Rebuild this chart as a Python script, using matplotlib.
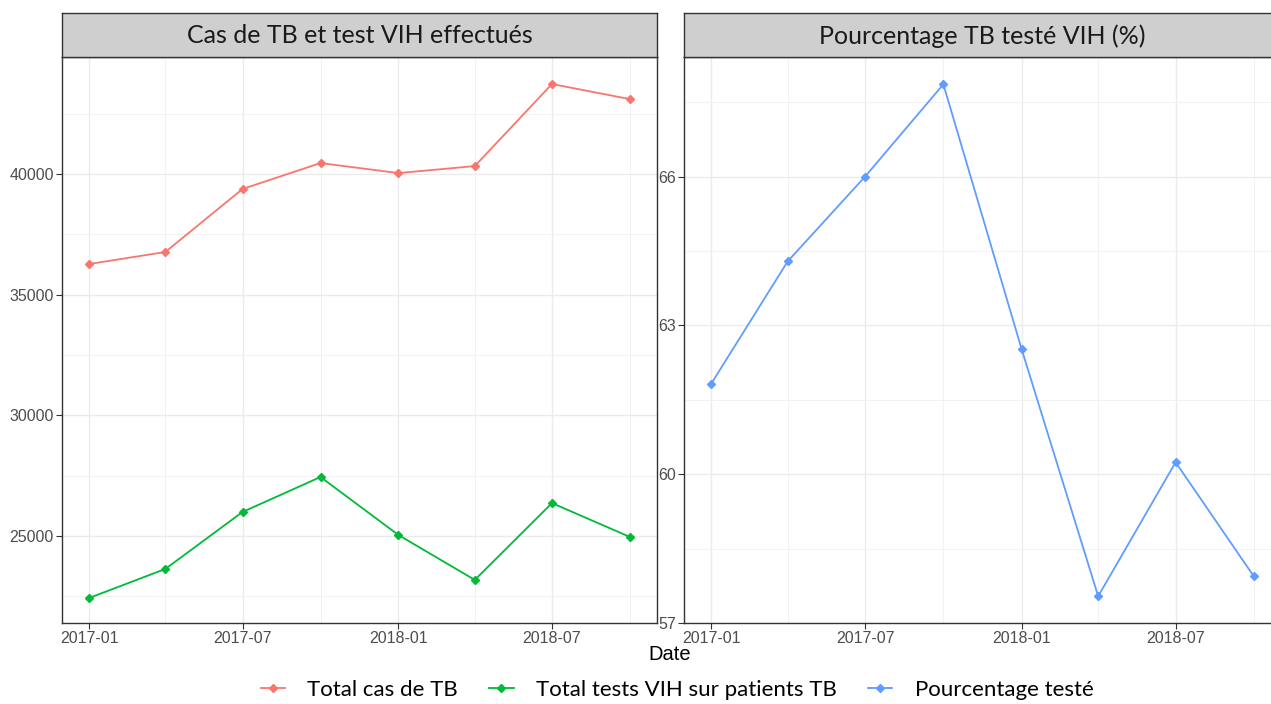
import pandas as pd
import matplotlib
matplotlib.use("Agg")
import matplotlib.pyplot as plt
import matplotlib.dates as mdates
from matplotlib.lines import Line2D

# quarterly values
dates = pd.to_datetime(["2017-01-01", "2017-04-01", "2017-07-01", "2017-10-01",
                        "2018-01-01", "2018-04-01", "2018-07-01", "2018-10-01"])
total_tb = [36270, 36770, 39380, 40455, 40040, 40330, 43730, 43105]
total_vih = [22430, 23635, 25995, 27445, 25040, 23180, 26365, 24960]
pct_teste = [61.82, 64.29, 66.00, 67.86, 62.52, 57.54, 60.24, 57.94]

strip_titles = ["Cas de TB et test VIH effectués", "Pourcentage TB testé VIH (%)"]
legend_labels = ["Total cas de TB", "Total tests VIH sur patients TB", "Pourcentage testé"]
colors = ["#F8766D", "#00BA38", "#619CFF"]

W, H = 1271, 704
fig = plt.figure(figsize=(W / 100, H / 100), dpi=100)
plt.rcParams["font.family"] = ["Liberation Sans", "DejaVu Sans"]
STRIP_FONT = ["Lato", "DejaVu Sans"]


def px(x0, y0, x1, y1):
    return [x0 / W, 1 - y1 / H, (x1 - x0) / W, (y1 - y0) / H]


def style(ax, major_y, minor_y, ylim):
    span = dates[-1] - dates[0]
    ax.set_xlim(dates[0] - span * 0.05, dates[-1] + span * 0.05)
    ax.set_ylim(*ylim)
    ax.xaxis.set_major_locator(mdates.MonthLocator(bymonth=[1, 7]))
    ax.xaxis.set_minor_locator(mdates.MonthLocator(bymonth=[4, 10]))
    ax.xaxis.set_major_formatter(mdates.DateFormatter("%Y-%m"))
    ax.set_yticks(major_y)
    ax.set_yticks(minor_y, minor=True)
    ax.grid(True, which="major", color="#EBEBEB", lw=1.0)
    ax.grid(True, which="minor", color="#F2F2F2", lw=0.7)
    ax.set_axisbelow(True)
    ax.tick_params(which="major", length=4, width=0.8, color="#333333",
                   labelsize=11.5, labelcolor="#4D4D4D", pad=2)
    ax.tick_params(which="minor", length=0)
    for s in ax.spines.values():
        s.set_color("#333333")
        s.set_linewidth(1.0)


def strip(rect, title):
    sax = fig.add_axes(rect)
    sax.set_facecolor("#CFCFCF")
    sax.set_xticks([])
    sax.set_yticks([])
    for s in sax.spines.values():
        s.set_color("#333333")
        s.set_linewidth(1.0)
    sax.text(0.5, 0.48, title, ha="center", va="center", fontsize=18,
             color="#1A1A1A", family=STRIP_FONT, transform=sax.transAxes)


# left panel: counts
ax1 = fig.add_axes(px(62, 57, 657, 623))
ax1.plot(dates, total_tb, color=colors[0], lw=1.3, marker="D", ms=4)
ax1.plot(dates, total_vih, color=colors[1], lw=1.3, marker="D", ms=4)
style(ax1, [25000, 30000, 35000, 40000],
      [22500, 27500, 32500, 37500, 42500], (21395, 44850))
strip(px(62, 13, 657, 57), strip_titles[0])

# right panel: percentage (clipped by the image edge in the reference)
ax2 = fig.add_axes(px(684, 57, 1281, 623))
ax2.plot(dates, pct_teste, color=colors[2], lw=1.3, marker="D", ms=4)
style(ax2, [57, 60, 63, 66], [58.5, 61.5, 64.5, 67.5], (57, 68.41))
strip(px(684, 13, 1281, 57), strip_titles[1])

fig.text(670 / W, 1 - 655 / H, "Date", ha="center", va="center",
         fontsize=14.5, color="black")

handles = [Line2D([], [], color=c, lw=1.3, marker="D", ms=4) for c in colors]
fig.legend(handles, legend_labels, loc="center", ncol=3,
           bbox_to_anchor=(677 / W, 1 - 690 / H), frameon=False,
           prop={"family": STRIP_FONT, "size": 16}, handlelength=1.1,
           handletextpad=1.0, columnspacing=1.4)

fig.savefig("out.png", dpi=100)
